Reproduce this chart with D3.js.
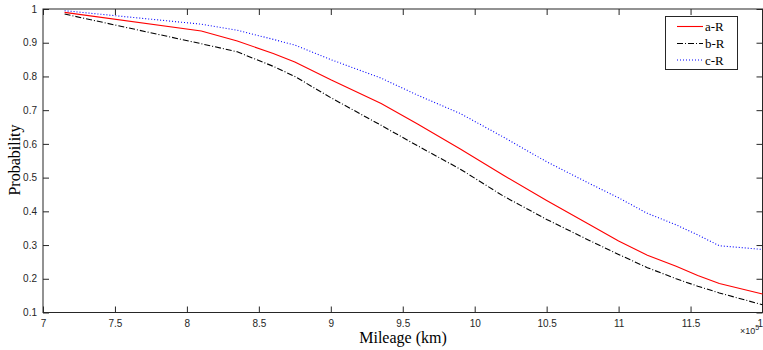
<!DOCTYPE html>
<html><head><meta charset="utf-8">
<script src="https://cdn.jsdelivr.net/npm/d3@7"></script>
<style>body{margin:0;background:#fff}svg{display:block}</style>
</head><body>
<script>
const mileage = [7.15, 8.1, 8.35, 8.6, 8.75, 9.0, 9.35, 9.6, 9.9, 10.2, 10.5, 10.8, 11.0, 11.2, 11.4, 11.55, 11.7, 12.0];
const aR = [0.99, 0.935, 0.905, 0.868, 0.843, 0.79, 0.72, 0.66, 0.585, 0.507, 0.432, 0.36, 0.312, 0.27, 0.237, 0.21, 0.186, 0.155];
const bR = [0.985, 0.897, 0.873, 0.83, 0.80, 0.737, 0.655, 0.595, 0.525, 0.445, 0.376, 0.313, 0.272, 0.233, 0.2, 0.178, 0.158, 0.123];
const cR = [0.995, 0.955, 0.937, 0.91, 0.893, 0.85, 0.795, 0.745, 0.69, 0.62, 0.547, 0.482, 0.44, 0.394, 0.36, 0.33, 0.298, 0.287];
const seriesNames = ["a-R", "b-R", "c-R"];
const xTicks = [7, 7.5, 8, 8.5, 9, 9.5, 10, 10.5, 11, 11.5, 12];
const yTicks = [0.1, 0.2, 0.3, 0.4, 0.5, 0.6, 0.7, 0.8, 0.9, 1];

const W = 763, H = 350;
const L = 43, R = 762.5, T = 9, B = 312.5;
const svg = d3.select("body").append("svg").attr("width", W).attr("height", H);
const x = d3.scaleLinear().domain([7, 12]).range([L, R]);
const y = d3.scaleLinear().domain([0.1, 1]).range([B, T]);
const axisColor = "#262626";
const tickFont = "Helvetica, Arial, 'Liberation Sans', sans-serif";

const g = svg.append("g");
function styleAxis(sel) {
  sel.select(".domain").remove();
  sel.selectAll("line").attr("stroke", axisColor).attr("stroke-width", 1);
  sel.selectAll("text").attr("fill", axisColor).style("font-family", tickFont).style("font-size", "10px");
}
g.append("g").attr("transform", `translate(0,${B})`)
  .call(d3.axisBottom(x).tickValues(xTicks).tickSize(-6).tickPadding(7).tickFormat(d => d3.format("")(d)))
  .call(styleAxis);
g.append("g").attr("transform", `translate(0,${T})`)
  .call(d3.axisTop(x).tickValues(xTicks).tickSize(-6).tickFormat(""))
  .call(styleAxis);
g.append("g").attr("transform", `translate(${L},0)`)
  .call(d3.axisLeft(y).tickValues(yTicks).tickSize(-6).tickPadding(6).tickFormat(d => d3.format("")(d)))
  .call(styleAxis);
g.append("g").attr("transform", `translate(${R},0)`)
  .call(d3.axisRight(y).tickValues(yTicks).tickSize(-6).tickFormat(""))
  .call(styleAxis);
g.append("rect").attr("x", L).attr("y", T).attr("width", R - L).attr("height", B - T)
  .attr("fill", "none").attr("stroke", axisColor).attr("stroke-width", 1);

// exponent label
const ex = svg.append("text").attr("x", 740).attr("y", 334).attr("fill", axisColor)
  .style("font-family", tickFont).style("font-size", "9px");
ex.append("tspan").text("\u00d710");
ex.append("tspan").attr("dy", -4).style("font-size", "7px").text("5");

const line = d3.line().x((d, i) => x(mileage[i])).y(d => y(d));
const styles = [
  {data: aR, color: "#ff0000", dash: null},
  {data: bR, color: "#000000", dash: "6,2,1,2"},
  {data: cR, color: "#0000ff", dash: "1,2"}
];
const plot = svg.append("g");
styles.forEach(s => {
  plot.append("path").attr("d", line(s.data)).attr("fill", "none")
    .attr("stroke", s.color).attr("stroke-width", 1.1)
    .attr("stroke-dasharray", s.dash);
});

svg.append("text").attr("x", 403).attr("y", 343).attr("text-anchor", "middle")
  .style("font-family", "'Times New Roman', 'Liberation Serif', serif").style("font-size", "16px")
  .attr("fill", "#000").text("Mileage (km)");
svg.append("text").attr("transform", "translate(20,160) rotate(-90)").attr("text-anchor", "middle")
  .style("font-family", "'Times New Roman', 'Liberation Serif', serif").style("font-size", "16px")
  .attr("fill", "#000").text("Probability");

const lg = svg.append("g");
lg.append("rect").attr("x", 665.5).attr("y", 16.5).attr("width", 72).attr("height", 53)
  .attr("fill", "#fff").attr("stroke", axisColor).attr("stroke-width", 1);
const legY = [26.5, 43.5, 60];
styles.forEach((s, i) => {
  lg.append("line").attr("x1", 677).attr("x2", 703).attr("y1", legY[i]).attr("y2", legY[i])
    .attr("stroke", s.color).attr("stroke-width", 1.1).attr("stroke-dasharray", s.dash);
  lg.append("text").attr("x", 705).attr("y", legY[i] + 4.5)
    .style("font-family", "'Times New Roman', 'Liberation Serif', serif").style("font-size", "13px")
    .attr("fill", "#000").text(seriesNames[i]);
});
</script>
</body></html>
